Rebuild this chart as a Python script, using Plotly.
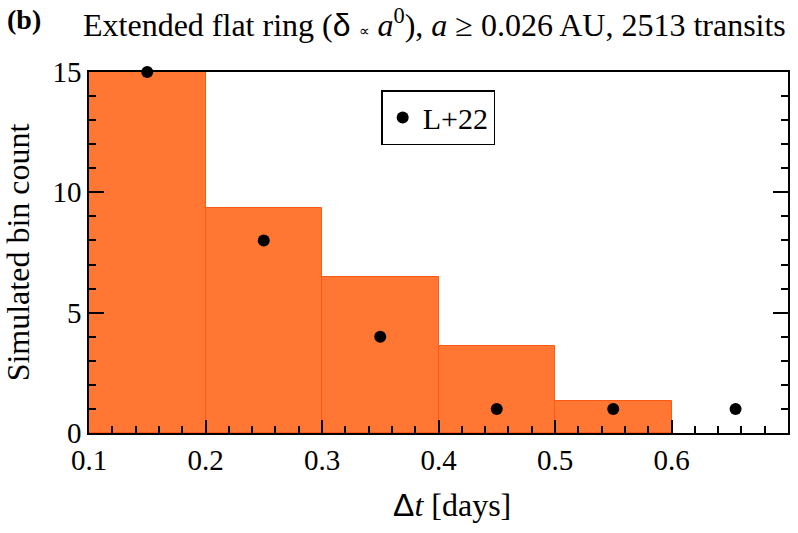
import plotly.graph_objects as go

# histogram bins (left edges) and simulated counts
bin_left = [0.1, 0.2, 0.3, 0.4, 0.5]
bin_width = 0.1
sim_counts = [15.0, 9.35, 6.47, 3.6, 1.35]

# observed points (L+22)
obs_x = [0.15, 0.25, 0.35, 0.45, 0.55, 0.655]
obs_y = [15, 8, 4, 1, 1, 1]

serif = "Liberation Serif, Times New Roman, serif"
sans = "Liberation Sans, DejaVu Sans, sans-serif"

fig = go.Figure()

fig.add_trace(go.Bar(
    x=[b + bin_width / 2 for b in bin_left],
    y=sim_counts,
    width=bin_width,
    marker=dict(color="#FF7733", line=dict(color="#FF5A14", width=1)),
    showlegend=False,
    hoverinfo="skip",
))

fig.add_trace(go.Scatter(
    x=obs_x,
    y=obs_y,
    mode="markers",
    marker=dict(color="black", size=12),
    name="L+22",
    cliponaxis=False,
))

axis_common = dict(
    showgrid=False,
    zeroline=False,
    showline=True,
    linecolor="black",
    linewidth=1.5,
    ticks="inside",
    tickcolor="black",
    tickwidth=1.5,
    tickfont=dict(family=serif, size=29, color="black"),
)

fig.update_xaxes(
    range=[0.1, 0.7],
    dtick=0.1,
    tick0=0.1,
    ticklen=13,
    tickformat=".1f",
    mirror=True,
    minor=dict(ticks="inside", dtick=0.02, ticklen=7, tickcolor="black", tickwidth=1.5),
    **axis_common,
)
fig.update_yaxes(
    range=[0, 15],
    dtick=5,
    ticklen=15,
    mirror="allticks",
    minor=dict(ticks="inside", dtick=1, ticklen=7, tickcolor="black", tickwidth=1.5),
    title=dict(text="Simulated bin count", font=dict(family=serif, size=32, color="black"), standoff=14),
    **axis_common,
)

# x title as annotation (sits a bit right of centre in the original)
fig.add_annotation(
    text=f"<span style='font-family:{sans}'>Δ</span><i>t</i> [days]",
    xref="paper", yref="paper", x=0.52, y=-0.2,
    xanchor="center", yanchor="middle", showarrow=False,
    font=dict(family=serif, size=32, color="black"),
)
fig.add_annotation(
    text="<b>(b)</b>", xref="paper", yref="paper", x=-0.12, y=1.145,
    xanchor="left", yanchor="middle", showarrow=False,
    font=dict(family=serif, size=28, color="black"),
)
fig.add_annotation(
    text=(f"Extended flat ring (<span style='font-family:{sans}'>δ</span> "
          "<span style='font-size:15px'>∝</span> <i>a</i><sup>0</sup>), "
          "<i>a</i> ≥ 0.026 AU, 2513 transits"),
    xref="paper", yref="paper", x=1.0, y=1.135,
    xanchor="right", yanchor="middle", showarrow=False,
    font=dict(family=serif, size=32, color="black"),
)

fig.update_layout(
    width=798,
    height=533,
    margin=dict(l=89, r=8, t=72, b=100),
    plot_bgcolor="white",
    paper_bgcolor="white",
    bargap=0,
    legend=dict(
        x=0.418, y=0.95, xanchor="left", yanchor="top",
        bordercolor="black", borderwidth=1.5, bgcolor="white",
        font=dict(family=serif, size=30, color="black"),
        itemwidth=30,
    ),
)

fig.write_html("out.html", config={"displayModeBar": False},
               post_script="document.body.style.margin='0';")
